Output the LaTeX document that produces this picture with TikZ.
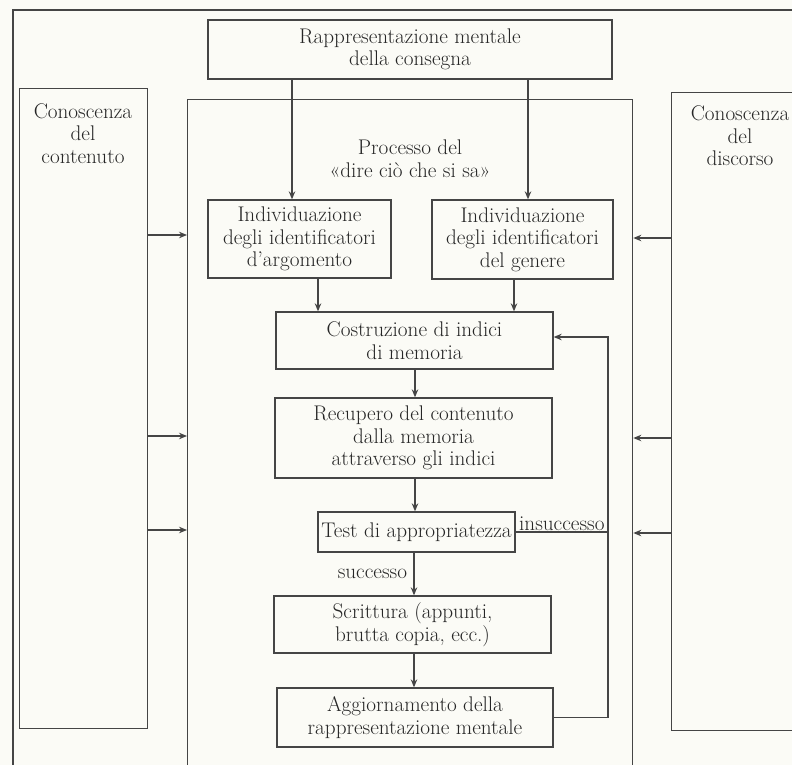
\documentclass[tikz,border=0pt]{standalone}
\usepackage{fontspec}
\usetikzlibrary{arrows.meta}
\definecolor{carta}{HTML}{FBFBF6}
\definecolor{tratto}{HTML}{454545}
\tikzset{
  testo/.style={align=center, text=black!85, font=\fontsize{21.2}{22.6}\selectfont},
  riquadro/.style={testo, draw=tratto, line width=1.3pt, inner sep=0pt},
  linea/.style={draw=tratto, line width=1.3pt},
  freccia/.style={linea, -{Stealth[length=8pt,width=6.5pt]}}
}
\begin{document}
\begin{tikzpicture}[x=1pt, y=-1pt]
    \useasboundingbox (0,0) rectangle (792,765);
    \fill[carta] (0,0) rectangle (792,765);
    \clip (0,0) rectangle (792,765);
    \draw[linea] (800,10) -- (13,10) -- (13,780);

    \node[riquadro, minimum width=404pt, minimum height=59pt] (consegna) at (410,49.5) {Rappresentazione mentale\\della consegna};
    \node[riquadro, minimum width=445pt, minimum height=700pt, anchor=north west] (processo) at (187,99) {};
    \node[testo] (processoTxt) at (410,159) {Processo del\\«dire ciò che si sa»};
    \node[riquadro, minimum width=128pt, minimum height=640pt, anchor=north west] (contenuto) at (19,88) {};
    \node[testo] (contenutoTxt) at (83,133.5) {Conoscenza\\del\\contenuto};
    \node[riquadro, minimum width=150pt, minimum height=638pt, anchor=north west] (discorso) at (671,92) {};
    \node[testo] (discorsoTxt) at (740,136) {Conoscenza\\del\\discorso};

    \node[riquadro, minimum width=183pt, minimum height=78pt] (argomento) at (299.5,239) {Individuazione\\degli identificatori\\d’argomento};
    \node[riquadro, minimum width=181pt, minimum height=79pt] (genere) at (522.5,239.5) {Individuazione\\degli identificatori\\del genere};
    \node[riquadro, minimum width=277pt, minimum height=57pt] (indici) at (414.5,340.5) {Costruzione di indici\\di memoria};
    \node[riquadro, minimum width=277pt, minimum height=80pt] (recupero) at (413.5,438) {Recupero del contenuto\\dalla memoria\\attraverso gli indici};
    \node[riquadro, minimum width=197pt, minimum height=40pt] (test) at (416.5,532) {Test di appropriatezza};
    \node[riquadro, minimum width=277pt, minimum height=57pt] (scrittura) at (412.5,624.5) {Scrittura (appunti,\\brutta copia, ecc.)};
    \node[riquadro, minimum width=276pt, minimum height=59pt] (aggiorna) at (415,717.5) {Aggiornamento della\\rappresentazione mentale};
    \coordinate (ritorno) at (608,337);

    \draw[freccia] (consegna.south -| 292,0) -- (argomento.north -| 292,0);
    \draw[freccia] (consegna.south -| 528,0) -- (genere.north -| 528,0);
    \draw[freccia] (argomento.south -| 318,0) -- (indici.north -| 318,0);
    \draw[freccia] (genere.south -| 514,0) -- (indici.north -| 514,0);
    \draw[freccia] (indici.south -| 415,0) -- (recupero.north -| 415,0);
    \draw[freccia] (recupero.south -| 415,0) -- (test.north -| 415,0);
    \draw[freccia] (test.south -| 414,0) -- node[testo, left, xshift=-3pt] {successo} (scrittura.north -| 414,0);
    \draw[freccia] (scrittura.south -| 414,0) -- (aggiorna.north -| 414,0);
    \draw[freccia] (aggiorna.east) -| (ritorno) -- (indici.east |- ritorno);
    \draw[linea] (test.east) -- node[testo, above, inner sep=1pt] {insuccesso} (test.east -| ritorno);

    \foreach \y in {235,436,530}
        \draw[freccia] (contenuto.east |- 0,\y) -- (processo.west |- 0,\y);
    \foreach \y in {238,438,533}
        \draw[freccia] (discorso.west |- 0,\y) -- (processo.east |- 0,\y);
\end{tikzpicture}
\end{document}
